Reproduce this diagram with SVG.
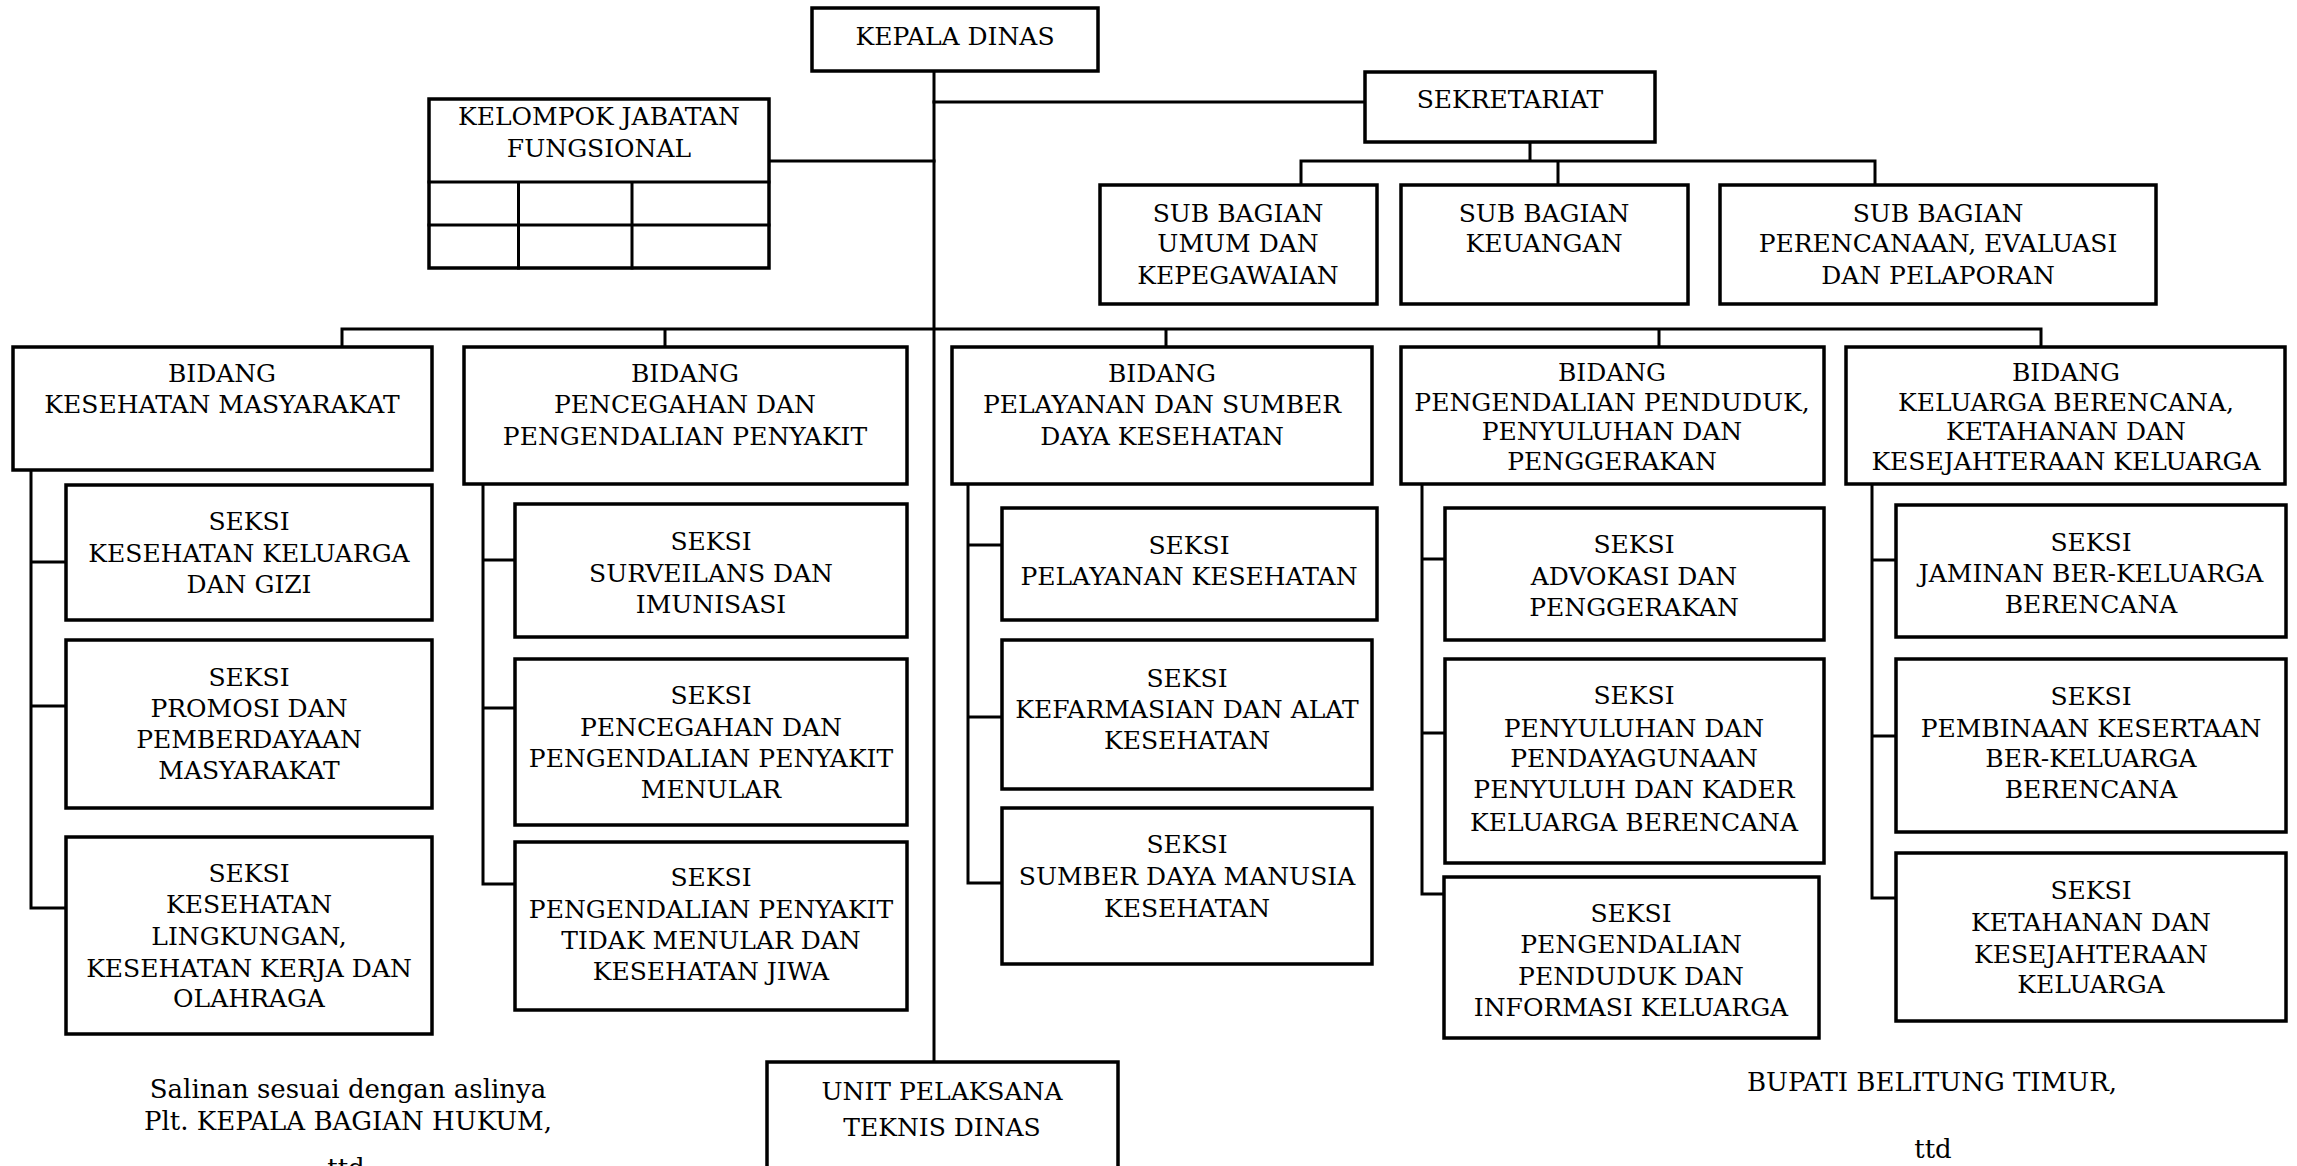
<svg xmlns="http://www.w3.org/2000/svg" width="2297" height="1166" viewBox="0 0 2297 1166">
  <style>
    .box { fill: #ffffff; stroke: #000000; stroke-width: 3.5; }
    .ln { fill: none; stroke: #000000; stroke-width: 3; stroke-linecap: square; }
    text { font-family: "DejaVu Serif", "Liberation Serif", serif; font-size: 25px; fill: #000000; text-anchor: middle; }
    .sig { font-size: 26px; }
  </style>
  <rect width="2297" height="1166" fill="#ffffff"/>

  <!-- connectors -->
  <g id="connectors" class="ln">
    <!-- trunk from the head down to the technical unit -->
    <path d="M934 72 V1061"/>
    <path d="M934 102 H1365"/>
    <path d="M770 161 H934"/>
    <!-- secretariat to its sub-sections -->
    <path d="M1530 143 V161 M1301 161 H1875 M1301 161 V185 M1558 161 V185 M1875 161 V185"/>
    <!-- bar over the five fields -->
    <path d="M342 329 H2041 M342 329 V347 M665 329 V347 M1166 329 V347 M1659 329 V347 M2041 329 V347"/>
    <!-- field to section ladders -->
    <path d="M31 470 V908 M31 562 H66 M31 706 H66 M31 908 H66"/>
    <path d="M483 484 V884 M483 560 H515 M483 708 H515 M483 884 H515"/>
    <path d="M968 484 V883 M968 545 H1002 M968 717 H1002 M968 883 H1002"/>
    <path d="M1422 484 V894 M1422 559 H1445 M1422 733 H1445 M1422 894 H1445"/>
    <path d="M1872 484 V898 M1872 560 H1896 M1872 736 H1896 M1872 898 H1896"/>
  </g>

  <g id="kepala-dinas">
    <rect class="box" x="812" y="8" width="286" height="63"/>
    <text x="955" y="45">KEPALA DINAS</text>
  </g>

  <g id="sekretariat">
    <rect class="box" x="1365" y="72" width="290" height="70"/>
    <text x="1510" y="108">SEKRETARIAT</text>
  </g>

  <g id="kelompok-jabatan-fungsional">
    <rect class="box" x="429" y="99" width="340" height="169"/>
    <path class="ln" d="M429 182 H769 M429 225 H769 M518.5 182 V268 M632 182 V268" stroke-width="3.5"/>
    <text x="599" y="125">KELOMPOK JABATAN</text>
    <text x="599" y="157">FUNGSIONAL</text>
  </g>

  <g id="sub-bagian-umum">
    <rect class="box" x="1100" y="185" width="277" height="119"/>
    <text x="1238" y="222">SUB BAGIAN</text>
    <text x="1238" y="252">UMUM DAN</text>
    <text x="1238" y="284">KEPEGAWAIAN</text>
  </g>

  <g id="sub-bagian-keuangan">
    <rect class="box" x="1401" y="185" width="287" height="119"/>
    <text x="1544" y="222">SUB BAGIAN</text>
    <text x="1544" y="252">KEUANGAN</text>
  </g>

  <g id="sub-bagian-perencanaan">
    <rect class="box" x="1720" y="185" width="436" height="119"/>
    <text x="1938" y="222">SUB BAGIAN</text>
    <text x="1938" y="252">PERENCANAAN, EVALUASI</text>
    <text x="1938" y="284">DAN PELAPORAN</text>
  </g>

  <g id="bidang-kesmas">
    <rect class="box" x="13" y="347" width="419" height="123"/>
    <text x="222" y="382">BIDANG</text>
    <text x="222" y="413">KESEHATAN MASYARAKAT</text>
  </g>

  <g id="bidang-p2p">
    <rect class="box" x="464" y="347" width="443" height="137"/>
    <text x="685" y="382">BIDANG</text>
    <text x="685" y="413">PENCEGAHAN DAN</text>
    <text x="685" y="445">PENGENDALIAN PENYAKIT</text>
  </g>

  <g id="bidang-yankes">
    <rect class="box" x="952" y="347" width="420" height="137"/>
    <text x="1162" y="382">BIDANG</text>
    <text x="1162" y="413">PELAYANAN DAN SUMBER</text>
    <text x="1162" y="445">DAYA KESEHATAN</text>
  </g>

  <g id="bidang-dalduk">
    <rect class="box" x="1401" y="347" width="423" height="137"/>
    <text x="1612" y="381">BIDANG</text>
    <text x="1612" y="411">PENGENDALIAN PENDUDUK,</text>
    <text x="1612" y="440">PENYULUHAN DAN</text>
    <text x="1612" y="470">PENGGERAKAN</text>
  </g>

  <g id="bidang-kb">
    <rect class="box" x="1846" y="347" width="439" height="137"/>
    <text x="2066" y="381">BIDANG</text>
    <text x="2066" y="411">KELUARGA BERENCANA,</text>
    <text x="2066" y="440">KETAHANAN DAN</text>
    <text x="2066" y="470">KESEJAHTERAAN KELUARGA</text>
  </g>

  <!-- sections under Kesehatan Masyarakat -->
  <g id="seksi-kesga-gizi">
    <rect class="box" x="66" y="485" width="366" height="135"/>
    <text x="249" y="530">SEKSI</text>
    <text x="249" y="562">KESEHATAN KELUARGA</text>
    <text x="249" y="593">DAN GIZI</text>
  </g>
  <g id="seksi-promkes">
    <rect class="box" x="66" y="640" width="366" height="168"/>
    <text x="249" y="686">SEKSI</text>
    <text x="249" y="717">PROMOSI DAN</text>
    <text x="249" y="748">PEMBERDAYAAN</text>
    <text x="249" y="779">MASYARAKAT</text>
  </g>
  <g id="seksi-kesling">
    <rect class="box" x="66" y="837" width="366" height="197"/>
    <text x="249" y="882">SEKSI</text>
    <text x="249" y="913">KESEHATAN</text>
    <text x="249" y="945">LINGKUNGAN,</text>
    <text x="249" y="977">KESEHATAN KERJA DAN</text>
    <text x="249" y="1007">OLAHRAGA</text>
  </g>

  <!-- sections under Pencegahan dan Pengendalian Penyakit -->
  <g id="seksi-surveilans">
    <rect class="box" x="515" y="504" width="392" height="133"/>
    <text x="711" y="550">SEKSI</text>
    <text x="711" y="582">SURVEILANS DAN</text>
    <text x="711" y="613">IMUNISASI</text>
  </g>
  <g id="seksi-p2pm">
    <rect class="box" x="515" y="659" width="392" height="166"/>
    <text x="711" y="704">SEKSI</text>
    <text x="711" y="736">PENCEGAHAN DAN</text>
    <text x="711" y="767">PENGENDALIAN PENYAKIT</text>
    <text x="711" y="798">MENULAR</text>
  </g>
  <g id="seksi-p2ptm">
    <rect class="box" x="515" y="842" width="392" height="168"/>
    <text x="711" y="886">SEKSI</text>
    <text x="711" y="918">PENGENDALIAN PENYAKIT</text>
    <text x="711" y="949">TIDAK MENULAR DAN</text>
    <text x="711" y="980">KESEHATAN JIWA</text>
  </g>

  <!-- sections under Pelayanan dan Sumber Daya Kesehatan -->
  <g id="seksi-yankes">
    <rect class="box" x="1002" y="508" width="375" height="112"/>
    <text x="1189" y="554">SEKSI</text>
    <text x="1189" y="585">PELAYANAN KESEHATAN</text>
  </g>
  <g id="seksi-farmalkes">
    <rect class="box" x="1002" y="640" width="370" height="149"/>
    <text x="1187" y="687">SEKSI</text>
    <text x="1187" y="718">KEFARMASIAN DAN ALAT</text>
    <text x="1187" y="749">KESEHATAN</text>
  </g>
  <g id="seksi-sdmk">
    <rect class="box" x="1002" y="808" width="370" height="156"/>
    <text x="1187" y="853">SEKSI</text>
    <text x="1187" y="885">SUMBER DAYA MANUSIA</text>
    <text x="1187" y="917">KESEHATAN</text>
  </g>

  <!-- sections under Pengendalian Penduduk, Penyuluhan dan Penggerakan -->
  <g id="seksi-advokasi">
    <rect class="box" x="1445" y="508" width="379" height="132"/>
    <text x="1634" y="553">SEKSI</text>
    <text x="1634" y="585">ADVOKASI DAN</text>
    <text x="1634" y="616">PENGGERAKAN</text>
  </g>
  <g id="seksi-penyuluhan">
    <rect class="box" x="1445" y="659" width="379" height="204"/>
    <text x="1634" y="704">SEKSI</text>
    <text x="1634" y="737">PENYULUHAN DAN</text>
    <text x="1634" y="767">PENDAYAGUNAAN</text>
    <text x="1634" y="798">PENYULUH DAN KADER</text>
    <text x="1634" y="831">KELUARGA BERENCANA</text>
  </g>
  <g id="seksi-dalduk">
    <rect class="box" x="1444" y="877" width="375" height="161"/>
    <text x="1631" y="922">SEKSI</text>
    <text x="1631" y="953">PENGENDALIAN</text>
    <text x="1631" y="985">PENDUDUK DAN</text>
    <text x="1631" y="1016">INFORMASI KELUARGA</text>
  </g>

  <!-- sections under Keluarga Berencana, Ketahanan dan Kesejahteraan Keluarga -->
  <g id="seksi-jaminan-kb">
    <rect class="box" x="1896" y="505" width="390" height="132"/>
    <text x="2091" y="551">SEKSI</text>
    <text x="2091" y="582">JAMINAN BER-KELUARGA</text>
    <text x="2091" y="613">BERENCANA</text>
  </g>
  <g id="seksi-pembinaan-kb">
    <rect class="box" x="1896" y="659" width="390" height="173"/>
    <text x="2091" y="705">SEKSI</text>
    <text x="2091" y="737">PEMBINAAN KESERTAAN</text>
    <text x="2091" y="767">BER-KELUARGA</text>
    <text x="2091" y="798">BERENCANA</text>
  </g>
  <g id="seksi-ketahanan">
    <rect class="box" x="1896" y="853" width="390" height="168"/>
    <text x="2091" y="899">SEKSI</text>
    <text x="2091" y="931">KETAHANAN DAN</text>
    <text x="2091" y="963">KESEJAHTERAAN</text>
    <text x="2091" y="993">KELUARGA</text>
  </g>

  <g id="unit-pelaksana-teknis">
    <rect class="box" x="767" y="1062" width="351" height="130"/>
    <text x="942" y="1100">UNIT PELAKSANA</text>
    <text x="942" y="1136">TEKNIS DINAS</text>
  </g>

  <!-- signature blocks -->
  <g id="signature-left">
    <text class="sig" x="348" y="1098">Salinan sesuai dengan aslinya</text>
    <text class="sig" x="348" y="1130">Plt. KEPALA BAGIAN HUKUM,</text>
    <text class="sig" x="346" y="1177">ttd</text>
  </g>
  <g id="signature-right">
    <text class="sig" x="1932" y="1091">BUPATI BELITUNG TIMUR,</text>
    <text class="sig" x="1933" y="1158">ttd</text>
  </g>
</svg>
